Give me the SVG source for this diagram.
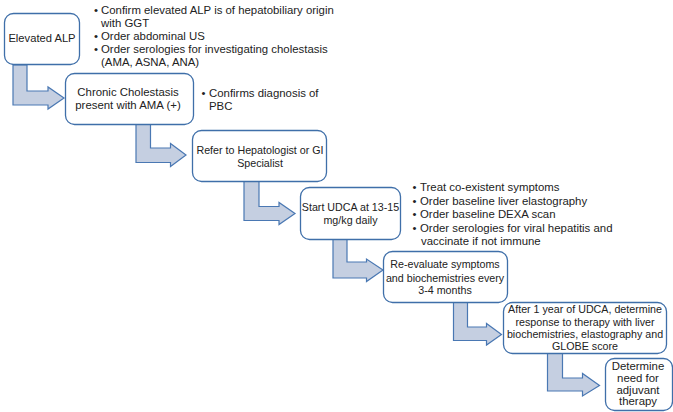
<svg xmlns="http://www.w3.org/2000/svg" width="673" height="412" viewBox="0 0 673 412">
<style>
.box{fill:#ffffff;stroke:#3f6fa9;stroke-width:1.3}
.arr{fill:#c5cfe1;stroke:#4a78b3;stroke-width:1.2;stroke-linejoin:miter}
text{font-family:"Liberation Sans",Arial,sans-serif;fill:#222222}
.n{font-size:10.7px;text-anchor:middle}
.b{font-size:11.4px}
</style>
<rect width="673" height="412" fill="#ffffff"/>
<g id="connectors">
<path class="arr" d="M13,65 L27,65 L27,91 L48,91 L48,87 L64,98 L48,109 L48,105 L13,105 Z"/>
<path class="arr" d="M136,124 L150.5,124 L150.5,148 L170.5,148 L170.5,143.5 L186,155 L170.5,166.5 L170.5,162.5 L136,162.5 Z"/>
<path class="arr" d="M244,181 L259,181 L259,206.5 L279,206.5 L279,202.5 L295,213.5 L279,224.5 L279,220.5 L244,220.5 Z"/>
<path class="arr" d="M333,239 L347,239 L347,262 L366.5,262 L366.5,259 L383,270 L366.5,281.5 L366.5,278 L333,278 Z"/>
<path class="arr" d="M453.5,302 L467.5,302 L467.5,327 L486.5,327 L486.5,323.5 L501.5,334.5 L486.5,345 L486.5,340.5 L453.5,340.5 Z"/>
<path class="arr" d="M547.5,353 L562.5,353 L562.5,378 L582.5,378 L582.5,373.5 L599.5,385.5 L582.5,396 L582.5,391 L547.5,391 Z"/>
</g>
<g id="n1">
<rect class="box" x="4.5" y="13.5" width="75" height="51" rx="9"/>
<text class="n" x="42" y="42" style="font-size:11.2px">Elevated ALP</text>
</g>
<g id="n1notes">
<text class="b" x="94" y="14">•</text><text class="b" x="101" y="14">Confirm elevated ALP is of hepatobiliary origin</text>
<text class="b" x="101" y="27">with GGT</text>
<text class="b" x="94" y="39.5">•</text><text class="b" x="101" y="39.5">Order abdominal US</text>
<text class="b" x="94" y="53">•</text><text class="b" x="101" y="53">Order serologies for investigating cholestasis</text>
<text class="b" x="101" y="66">(AMA, ASNA, ANA)</text>
</g>
<g id="n2">
<rect class="box" x="65.5" y="73.5" width="128" height="51" rx="9"/>
<text class="n" x="128" y="95.5" style="font-size:11.4px">Chronic Cholestasis</text>
<text class="n" x="128" y="108.5" style="font-size:11.4px">present with AMA (+)</text>
</g>
<g id="n2notes">
<text class="b" x="201.5" y="96.5">•</text><text class="b" x="209" y="96.5">Confirms diagnosis of</text>
<text class="b" x="209" y="109.5">PBC</text>
</g>
<g id="n3">
<rect class="box" x="192.5" y="130.5" width="134" height="51" rx="9"/>
<text class="n" x="260" y="153.5">Refer to Hepatologist or GI</text>
<text class="n" x="260" y="166.5">Specialist</text>
</g>
<g id="n4">
<rect class="box" x="300.5" y="187.5" width="100" height="52" rx="9"/>
<text class="n" x="350.5" y="210.5">Start UDCA at 13-15</text>
<text class="n" x="350.5" y="223.5">mg/kg daily</text>
</g>
<g id="n4notes">
<text class="b" x="412.5" y="191">•</text><text class="b" x="420" y="191">Treat co-existent symptoms</text>
<text class="b" x="412.5" y="204.5">•</text><text class="b" x="420" y="204.5">Order baseline liver elastography</text>
<text class="b" x="412.5" y="218">•</text><text class="b" x="420" y="218">Order baseline DEXA scan</text>
<text class="b" x="412.5" y="231.5">•</text><text class="b" x="420" y="231.5">Order serologies for viral hepatitis and</text>
<text class="b" x="421" y="245">vaccinate if not immune</text>
</g>
<g id="n5">
<rect class="box" x="383.5" y="251.5" width="124" height="51" rx="9"/>
<text class="n" x="445" y="268">Re-evaluate symptoms</text>
<text class="n" x="445" y="281.5">and biochemistries every</text>
<text class="n" x="445" y="294">3-4 months</text>
</g>
<g id="n6">
<rect class="box" x="503.5" y="302.5" width="163" height="51" rx="9"/>
<text class="n" x="585" y="312.5">After 1 year of UDCA, determine</text>
<text class="n" x="585" y="325.5">response to therapy with liver</text>
<text class="n" x="585" y="338">biochemistries, elastography and</text>
<text class="n" x="585" y="350">GLOBE score</text>
</g>
<g id="n7">
<rect class="box" x="605.5" y="358.5" width="67" height="52" rx="9"/>
<text class="n" x="638" y="369.5" style="font-size:11.4px">Determine</text>
<text class="n" x="638" y="381.5" style="font-size:11.4px">need for</text>
<text class="n" x="638" y="393.5" style="font-size:11.4px">adjuvant</text>
<text class="n" x="638" y="405" style="font-size:11.4px">therapy</text>
</g>
</svg>
